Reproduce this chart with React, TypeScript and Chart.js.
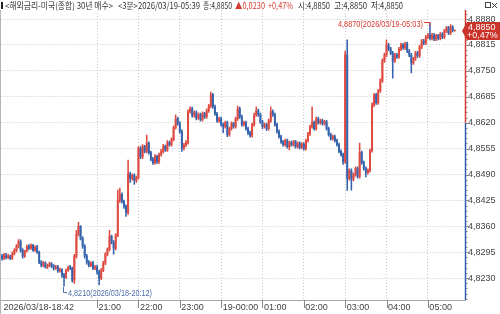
import React, { useEffect, useRef } from 'react';
import { Chart, registerables } from 'chart.js';

Chart.register(...registerables);

// 3-minute candles, 2026/03/18-18:42 .. 2026/03/19-05:39
const opens = [
  4.8285, 4.8280, 4.8288, 4.8282, 4.8285, 4.8280, 4.8292, 4.8300, 4.8310, 4.8322,
  4.8300, 4.8285, 4.8298, 4.8310, 4.8305, 4.8312, 4.8300, 4.8308, 4.8295, 4.8270,
  4.8262, 4.8268, 4.8258, 4.8262, 4.8266, 4.8260, 4.8255, 4.8258, 4.8248, 4.8250,
  4.8238, 4.8232, 4.8250, 4.8256, 4.8255, 4.8225, 4.8285, 4.8340, 4.8360, 4.8330,
  4.8310, 4.8285, 4.8270, 4.8262, 4.8268, 4.8255, 4.8258, 4.8245, 4.8230, 4.8250,
  4.8268, 4.8290, 4.8302, 4.8335, 4.8320, 4.8305, 4.8338, 4.8425, 4.8440, 4.8422,
  4.8410, 4.8395, 4.8492, 4.8480, 4.8488, 4.8475, 4.8482, 4.8555, 4.8535, 4.8560,
  4.8548, 4.8568, 4.8545, 4.8528, 4.8520, 4.8535, 4.8522, 4.8540, 4.8548, 4.8560,
  4.8552, 4.8570, 4.8565, 4.8578, 4.8608, 4.8630, 4.8618, 4.8598, 4.8556, 4.8564,
  4.8570, 4.8648, 4.8655, 4.8638, 4.8645, 4.8632, 4.8640, 4.8628, 4.8642, 4.8635,
  4.8650, 4.8662, 4.8690, 4.8660, 4.8642, 4.8625, 4.8630, 4.8615, 4.8610, 4.8620,
  4.8590, 4.8605, 4.8618, 4.8610, 4.8630, 4.8655, 4.8635, 4.8615, 4.8620, 4.8605,
  4.8595, 4.8588, 4.8615, 4.8640, 4.8650, 4.8640, 4.8622, 4.8610, 4.8615, 4.8605,
  4.8625, 4.8648, 4.8640, 4.8615, 4.8598, 4.8585, 4.8572, 4.8565, 4.8575, 4.8560,
  4.8570, 4.8565, 4.8572, 4.8560, 4.8568, 4.8558, 4.8566, 4.8555, 4.8575, 4.8592,
  4.8610, 4.8620, 4.8605, 4.8630, 4.8620, 4.8625, 4.8618, 4.8622, 4.8605, 4.8590,
  4.8580, 4.8585, 4.8575, 4.8565, 4.8548, 4.8540, 4.8522, 4.8790, 4.8480, 4.8500,
  4.8478, 4.8490, 4.8505, 4.8485, 4.8545, 4.8520, 4.8505, 4.8495, 4.8500, 4.8550,
  4.8665, 4.8690, 4.8670, 4.8700, 4.8725, 4.8775, 4.8790, 4.8815, 4.8805, 4.8795,
  4.8775, 4.8790, 4.8785, 4.8805, 4.8815, 4.8808, 4.8818, 4.8800, 4.8790, 4.8770,
  4.8780, 4.8795, 4.8788, 4.8810, 4.8825, 4.8820, 4.8835, 4.8840, 4.8832, 4.8840,
  4.8830, 4.8838, 4.8832, 4.8842, 4.8835, 4.8850, 4.8858, 4.8845, 4.8860, 4.8850,
];

const highs = [
  4.8290, 4.8292, 4.8292, 4.8290, 4.8288, 4.8296, 4.8304, 4.8314, 4.8327, 4.8326,
  4.8304, 4.8300, 4.8313, 4.8314, 4.8316, 4.8315, 4.8311, 4.8312, 4.8298, 4.8274,
  4.8272, 4.8271, 4.8265, 4.8270, 4.8269, 4.8264, 4.8262, 4.8262, 4.8255, 4.8254,
  4.8242, 4.8253, 4.8260, 4.8262, 4.8258, 4.8290, 4.8350, 4.8370, 4.8362, 4.8334,
  4.8314, 4.8290, 4.8274, 4.8271, 4.8272, 4.8262, 4.8263, 4.8250, 4.8254, 4.8272,
  4.8294, 4.8306, 4.8350, 4.8338, 4.8324, 4.8342, 4.8451, 4.8456, 4.8444, 4.8426,
  4.8414, 4.8526, 4.8496, 4.8492, 4.8492, 4.8486, 4.8560, 4.8560, 4.8565, 4.8563,
  4.8589, 4.8572, 4.8549, 4.8533, 4.8540, 4.8539, 4.8544, 4.8553, 4.8566, 4.8564,
  4.8575, 4.8574, 4.8582, 4.8612, 4.8640, 4.8634, 4.8622, 4.8602, 4.8568, 4.8575,
  4.8652, 4.8660, 4.8659, 4.8650, 4.8650, 4.8645, 4.8644, 4.8647, 4.8646, 4.8655,
  4.8666, 4.8697, 4.8694, 4.8664, 4.8646, 4.8634, 4.8634, 4.8619, 4.8624, 4.8624,
  4.8609, 4.8622, 4.8621, 4.8634, 4.8662, 4.8659, 4.8639, 4.8624, 4.8624, 4.8609,
  4.8599, 4.8619, 4.8644, 4.8660, 4.8654, 4.8644, 4.8626, 4.8619, 4.8619, 4.8629,
  4.8660, 4.8652, 4.8644, 4.8619, 4.8602, 4.8589, 4.8576, 4.8579, 4.8579, 4.8574,
  4.8574, 4.8576, 4.8576, 4.8572, 4.8572, 4.8570, 4.8570, 4.8579, 4.8596, 4.8614,
  4.8660, 4.8624, 4.8634, 4.8634, 4.8629, 4.8629, 4.8626, 4.8626, 4.8609, 4.8594,
  4.8589, 4.8589, 4.8579, 4.8569, 4.8552, 4.8544, 4.8800, 4.8828, 4.8504, 4.8504,
  4.8494, 4.8509, 4.8509, 4.8569, 4.8549, 4.8524, 4.8509, 4.8504, 4.8554, 4.8670,
  4.8694, 4.8694, 4.8704, 4.8730, 4.8780, 4.8795, 4.8828, 4.8819, 4.8809, 4.8799,
  4.8794, 4.8794, 4.8809, 4.8820, 4.8819, 4.8822, 4.8822, 4.8804, 4.8794, 4.8784,
  4.8799, 4.8799, 4.8814, 4.8829, 4.8829, 4.8839, 4.8844, 4.8870, 4.8844, 4.8844,
  4.8842, 4.8842, 4.8846, 4.8846, 4.8854, 4.8862, 4.8862, 4.8866, 4.8864, 4.8850,
];

const lows = [
  4.8275, 4.8276, 4.8278, 4.8279, 4.8276, 4.8277, 4.8288, 4.8296, 4.8306, 4.8295,
  4.8280, 4.8282, 4.8295, 4.8301, 4.8302, 4.8297, 4.8297, 4.8292, 4.8266, 4.8258,
  4.8258, 4.8255, 4.8254, 4.8259, 4.8256, 4.8250, 4.8252, 4.8244, 4.8245, 4.8232,
  4.8210, 4.8229, 4.8247, 4.8251, 4.8220, 4.8217, 4.8280, 4.8336, 4.8326, 4.8305,
  4.8280, 4.8265, 4.8258, 4.8259, 4.8251, 4.8251, 4.8240, 4.8213, 4.8226, 4.8246,
  4.8264, 4.8286, 4.8298, 4.8316, 4.8290, 4.8301, 4.8334, 4.8420, 4.8418, 4.8405,
  4.8385, 4.8390, 4.8470, 4.8476, 4.8465, 4.8470, 4.8478, 4.8530, 4.8530, 4.8544,
  4.8544, 4.8541, 4.8524, 4.8515, 4.8516, 4.8517, 4.8518, 4.8536, 4.8544, 4.8548,
  4.8548, 4.8561, 4.8561, 4.8574, 4.8604, 4.8614, 4.8594, 4.8548, 4.8552, 4.8560,
  4.8566, 4.8644, 4.8634, 4.8634, 4.8627, 4.8628, 4.8624, 4.8624, 4.8631, 4.8631,
  4.8646, 4.8658, 4.8656, 4.8638, 4.8621, 4.8621, 4.8611, 4.8595, 4.8606, 4.8585,
  4.8586, 4.8601, 4.8606, 4.8606, 4.8626, 4.8631, 4.8611, 4.8611, 4.8601, 4.8590,
  4.8584, 4.8584, 4.8611, 4.8636, 4.8636, 4.8618, 4.8605, 4.8606, 4.8600, 4.8601,
  4.8621, 4.8636, 4.8611, 4.8594, 4.8581, 4.8568, 4.8561, 4.8561, 4.8556, 4.8552,
  4.8561, 4.8561, 4.8556, 4.8556, 4.8554, 4.8554, 4.8551, 4.8551, 4.8571, 4.8588,
  4.8606, 4.8601, 4.8601, 4.8616, 4.8616, 4.8614, 4.8614, 4.8601, 4.8586, 4.8576,
  4.8576, 4.8571, 4.8561, 4.8544, 4.8536, 4.8515, 4.8518, 4.8450, 4.8476, 4.8451,
  4.8474, 4.8486, 4.8481, 4.8481, 4.8516, 4.8501, 4.8484, 4.8491, 4.8496, 4.8546,
  4.8660, 4.8666, 4.8666, 4.8696, 4.8721, 4.8771, 4.8786, 4.8801, 4.8791, 4.8732,
  4.8771, 4.8781, 4.8781, 4.8801, 4.8804, 4.8804, 4.8796, 4.8786, 4.8745, 4.8766,
  4.8776, 4.8784, 4.8784, 4.8806, 4.8816, 4.8816, 4.8831, 4.8828, 4.8828, 4.8826,
  4.8826, 4.8828, 4.8828, 4.8831, 4.8831, 4.8846, 4.8841, 4.8841, 4.8848, 4.8850,
];

const closes = [
  4.8280, 4.8288, 4.8282, 4.8285, 4.8280, 4.8292, 4.8300, 4.8310, 4.8322, 4.8300,
  4.8285, 4.8298, 4.8310, 4.8305, 4.8312, 4.8300, 4.8308, 4.8295, 4.8270, 4.8262,
  4.8268, 4.8258, 4.8262, 4.8266, 4.8260, 4.8255, 4.8258, 4.8248, 4.8250, 4.8238,
  4.8232, 4.8250, 4.8256, 4.8255, 4.8225, 4.8285, 4.8340, 4.8360, 4.8330, 4.8310,
  4.8285, 4.8270, 4.8262, 4.8268, 4.8255, 4.8258, 4.8245, 4.8230, 4.8250, 4.8268,
  4.8290, 4.8302, 4.8335, 4.8320, 4.8305, 4.8338, 4.8425, 4.8440, 4.8422, 4.8410,
  4.8395, 4.8492, 4.8480, 4.8488, 4.8475, 4.8482, 4.8555, 4.8535, 4.8560, 4.8548,
  4.8568, 4.8545, 4.8528, 4.8520, 4.8535, 4.8522, 4.8540, 4.8548, 4.8560, 4.8552,
  4.8570, 4.8565, 4.8578, 4.8608, 4.8630, 4.8618, 4.8598, 4.8556, 4.8564, 4.8570,
  4.8648, 4.8655, 4.8638, 4.8645, 4.8632, 4.8640, 4.8628, 4.8642, 4.8635, 4.8650,
  4.8662, 4.8690, 4.8660, 4.8642, 4.8625, 4.8630, 4.8615, 4.8610, 4.8620, 4.8590,
  4.8605, 4.8618, 4.8610, 4.8630, 4.8655, 4.8635, 4.8615, 4.8620, 4.8605, 4.8595,
  4.8588, 4.8615, 4.8640, 4.8650, 4.8640, 4.8622, 4.8610, 4.8615, 4.8605, 4.8625,
  4.8648, 4.8640, 4.8615, 4.8598, 4.8585, 4.8572, 4.8565, 4.8575, 4.8560, 4.8570,
  4.8565, 4.8572, 4.8560, 4.8568, 4.8558, 4.8566, 4.8555, 4.8575, 4.8592, 4.8610,
  4.8620, 4.8605, 4.8630, 4.8620, 4.8625, 4.8618, 4.8622, 4.8605, 4.8590, 4.8580,
  4.8585, 4.8575, 4.8565, 4.8548, 4.8540, 4.8522, 4.8790, 4.8480, 4.8500, 4.8478,
  4.8490, 4.8505, 4.8485, 4.8545, 4.8520, 4.8505, 4.8495, 4.8500, 4.8550, 4.8665,
  4.8690, 4.8670, 4.8700, 4.8725, 4.8775, 4.8790, 4.8815, 4.8805, 4.8795, 4.8775,
  4.8790, 4.8785, 4.8805, 4.8815, 4.8808, 4.8818, 4.8800, 4.8790, 4.8770, 4.8780,
  4.8795, 4.8788, 4.8810, 4.8825, 4.8820, 4.8835, 4.8840, 4.8832, 4.8840, 4.8830,
  4.8838, 4.8832, 4.8842, 4.8835, 4.8850, 4.8858, 4.8845, 4.8860, 4.8852, 4.8850,
];

// time axis: candle index of each labelled tick
const xTickIndex = [0, 46, 66, 86, 106, 126, 146, 166, 186, 206];
const xTickLabels = ['2026/03/18-18:42', '21:00', '22:00', '23:00', '19-00:00', '01:00', '02:00', '03:00', '04:00', '05:00'];
const yTickValues = [4.8230, 4.8295, 4.8360, 4.8425, 4.8490, 4.8555, 4.8620, 4.8685, 4.8750, 4.8815, 4.8880];
const yMinorStep = 0.0013;

const headerTitle = '<해외금리-미국(종합) 30년 매수>';
const headerPeriod = '<3분>2026/03/19-05:39';
const prevClose = 4.8620;
const priceChange = 0.0230;
const pctChange = 0.47;
const maxMark = { index: 207, value: 4.8870, time: '2026/03/19-05:03' };
const minMark = { index: 30, value: 4.8210, time: '2026/03/18-20:12' };

const X_MIN = -0.676;
const X_MAX = 223.96;
const Y_MIN = 4.81751;
const Y_MAX = 4.89028;

const RED = '#d63a30';
const CANDLE_RED = '#de4a40';
const BLUE = '#2f5fae';
const CANDLE_BLUE = '#3563ad';
const NARROW = "'Liberation Sans Narrow', 'Liberation Sans', Arial, sans-serif";
const KFONT = "'Liberation Sans Narrow', 'Noto Sans CJK KR', sans-serif";

const fmt = (v: number) => v.toFixed(4).replace('.', ',');

export default function App() {
  const ref = useRef<HTMLCanvasElement>(null);

  useEffect(() => {
    const canvas = ref.current;
    if (!canvas) return;
    const n = closes.length;
    const last = closes[n - 1];

    const overlay = {
      id: 'overlay',
      afterDraw(chart: any) {
        const { ctx, chartArea: ca, scales } = chart;
        const x = scales.x;
        const y = scales.y;
        ctx.save();

        // frame
        ctx.strokeStyle = '#b4b4b4';
        ctx.lineWidth = 1;
        ctx.beginPath();
        ctx.moveTo(0.5, ca.top);
        ctx.lineTo(0.5, 314);
        ctx.stroke();

        // x tick marks in the time band
        ctx.strokeStyle = '#888';
        xTickIndex.forEach((v, k) => {
          if (k === 0) return;
          const px = Math.round(x.getPixelForValue(v)) + 0.5;
          ctx.beginPath();
          ctx.moveTo(px, ca.bottom);
          ctx.lineTo(px, ca.bottom + 8);
          ctx.stroke();
        });

        // right axis line, red above previous close, blue below
        const yPrev = y.getPixelForValue(prevClose);
        ctx.lineWidth = 1.5;
        ctx.strokeStyle = RED;
        ctx.beginPath();
        ctx.moveTo(ca.right + 0.5, ca.top);
        ctx.lineTo(ca.right + 0.5, yPrev);
        ctx.stroke();
        ctx.strokeStyle = BLUE;
        ctx.beginPath();
        ctx.moveTo(ca.right + 0.5, yPrev);
        ctx.lineTo(ca.right + 0.5, ca.bottom);
        ctx.stroke();

        // y tick marks (major + minor)
        ctx.lineWidth = 1;
        ctx.strokeStyle = '#888';
        for (let k = -5; k <= 60; k++) {
          const v = yTickValues[0] + k * yMinorStep;
          const py = Math.round(y.getPixelForValue(v)) + 0.5;
          if (py < ca.top || py > ca.bottom) continue;
          const major = ((k % 5) + 5) % 5 === 0;
          ctx.beginPath();
          ctx.moveTo(ca.right + 1, py);
          ctx.lineTo(ca.right + (major ? 4 : 2.5), py);
          ctx.stroke();
        }

        // header
        ctx.fillStyle = '#222';
        ctx.fillRect(1, 2, 2, 7);
        const parts = [
          { t: headerTitle, x: 5, w: 108, c: '#333' },
          { t: headerPeriod, x: 118, w: 82, c: '#333' },
          { t: '종:' + fmt(last), x: 203, w: 29, c: '#333' },
          { t: '▲' + fmt(priceChange), x: 235, w: 30, c: RED },
          { t: '+' + pctChange.toFixed(2).replace('.', ',') + '%', x: 268, w: 25, c: RED },
          { t: '시:' + fmt(opens[n - 1]), x: 298, w: 32, c: '#333' },
          { t: '고:' + fmt(highs[n - 1]), x: 334, w: 33, c: '#333' },
          { t: '저:' + fmt(lows[n - 1]), x: 371, w: 32, c: '#333' },
        ];
        ctx.font = `9px ${KFONT}`;
        ctx.textBaseline = 'alphabetic';
        ctx.textAlign = 'left';
        parts.forEach((p) => {
          ctx.fillStyle = p.c;
          ctx.fillText(p.t, p.x, 8.5, p.w);
        });
        // window icons
        ctx.strokeStyle = '#444';
        ctx.strokeRect(485.5, 2.5, 5, 5);
        ctx.beginPath();
        ctx.moveTo(492, 3); ctx.lineTo(497, 8);
        ctx.moveTo(497, 3); ctx.lineTo(492, 8);
        ctx.stroke();

        // max annotation
        ctx.font = `9px ${NARROW}`;
        const mx = x.getPixelForValue(maxMark.index);
        const my = y.getPixelForValue(maxMark.value);
        ctx.fillStyle = RED;
        ctx.strokeStyle = RED;
        ctx.textAlign = 'right';
        ctx.textBaseline = 'middle';
        ctx.fillText(`${fmt(maxMark.value)}(${maxMark.time})`, mx - 7, my + 1, 85);
        ctx.beginPath();
        ctx.moveTo(mx - 6, Math.round(my) - 0.5);
        ctx.lineTo(mx, Math.round(my) - 0.5);
        ctx.lineTo(mx, my + 3);
        ctx.stroke();

        // min annotation
        const nx = x.getPixelForValue(minMark.index);
        const ny = y.getPixelForValue(minMark.value);
        ctx.fillStyle = '#4a70a8';
        ctx.strokeStyle = '#4a70a8';
        ctx.textAlign = 'left';
        ctx.beginPath();
        ctx.moveTo(Math.round(nx) - 0.5, ny + 1);
        ctx.lineTo(Math.round(nx) - 0.5, ny + 6.5);
        ctx.lineTo(nx + 3, ny + 6.5);
        ctx.stroke();
        ctx.fillText(`${fmt(minMark.value)}(${minMark.time})`, nx + 4, ny + 7, 84);

        // current price box
        const py = y.getPixelForValue(last);
        ctx.fillStyle = '#c9332a';
        ctx.beginPath();
        ctx.moveTo(ca.right - 3, py);
        ctx.lineTo(ca.right + 2, py - 9);
        ctx.lineTo(500, py - 9);
        ctx.lineTo(500, py + 9);
        ctx.lineTo(ca.right + 2, py + 9);
        ctx.closePath();
        ctx.fill();
        ctx.fillStyle = '#fff';
        ctx.textAlign = 'left';
        ctx.font = `9px ${NARROW}`;
        ctx.fillText(fmt(last), ca.right + 3, py - 4);
        ctx.fillText('+' + pctChange.toFixed(2).replace('.', ',') + '%', ca.right + 2, py + 4.5);

        ctx.restore();
      },
    };

    const colorOf = (c: any) => (closes[c.dataIndex] >= opens[c.dataIndex] ? CANDLE_RED : CANDLE_BLUE);

    const chart = new Chart(canvas, {
      type: 'bar',
      data: {
        datasets: [
          {
            label: 'body',
            data: opens.map((o, i) => ({ x: i, y: [o, closes[i]] })) as any,
            backgroundColor: colorOf as any,
            borderWidth: 0,
            barThickness: 1.3,
            minBarLength: 1,
            grouped: false,
          } as any,
          {
            label: 'wick',
            data: lows.map((l, i) => ({ x: i, y: [l, highs[i]] })) as any,
            backgroundColor: colorOf as any,
            borderWidth: 0,
            barThickness: 0.9,
            minBarLength: 1,
            grouped: false,
          } as any,
        ],
      },
      options: {
        responsive: false,
        animation: false,
        devicePixelRatio: 1,
        events: [],
        layout: { padding: { top: 10, left: 0, right: 0, bottom: 0 } },
        plugins: { legend: { display: false }, tooltip: { enabled: false } },
        scales: {
          x: {
            type: 'linear',
            min: X_MIN,
            max: X_MAX,
            offset: false,
            afterBuildTicks: (s: any) => {
              s.ticks = xTickIndex.map((v) => ({ value: v }));
            },
            afterFit: (s: any) => {
              s.height = 14;
            },
            grid: {
              color: (c: any) => (c.index === 0 ? 'rgba(0,0,0,0)' : '#c8c8c8'),
              drawTicks: false,
              offset: false,
              lineWidth: 1,
            },
            border: { display: true, color: '#a8a8a8', dash: [1, 2] },
            ticks: {
              autoSkip: false,
              maxRotation: 0,
              minRotation: 0,
              align: 'start',
              labelOffset: 1.5,
              padding: 2,
              color: '#444',
              font: { family: NARROW, size: 9 },
              callback: (_v: any, i: number) => xTickLabels[i],
            },
          } as any,
          y: {
            type: 'linear',
            position: 'right',
            min: Y_MIN,
            max: Y_MAX,
            afterBuildTicks: (s: any) => {
              s.ticks = yTickValues.map((v) => ({ value: v }));
            },
            afterFit: (s: any) => {
              s.width = 35;
            },
            grid: { color: '#c8c8c8', drawTicks: false, lineWidth: 1 },
            border: { display: false, dash: [1, 2] },
            ticks: {
              padding: 3,
              color: '#444',
              font: { family: NARROW, size: 9 },
              callback: (v: any) => fmt(Number(v)),
            },
          } as any,
        },
      },
      plugins: [overlay],
    });

    return () => chart.destroy();
  }, []);

  return (
    <div style={{ position: 'fixed', left: 0, top: 0, width: 500, height: 314, background: '#fff' }}>
      <canvas ref={ref} width={500} height={314} style={{ display: 'block', width: 500, height: 314 }} />
    </div>
  );
}
